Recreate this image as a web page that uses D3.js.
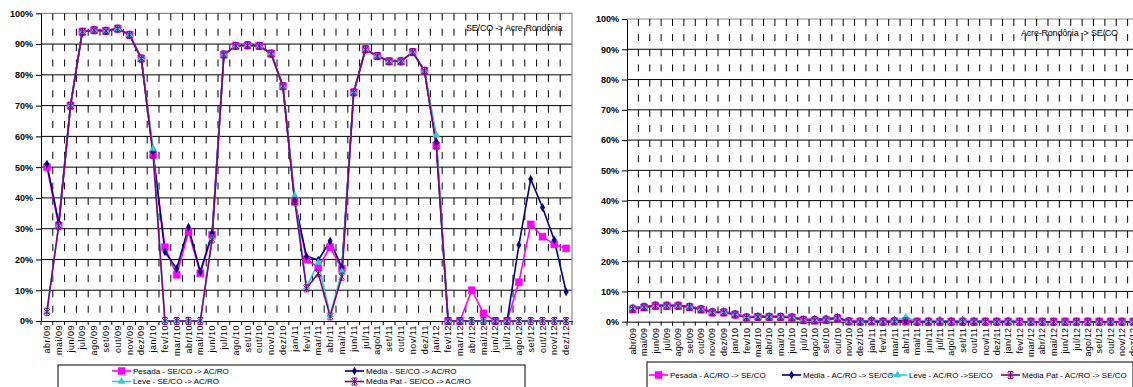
<!DOCTYPE html>
<html>
<head>
<meta charset="utf-8">
<script src="https://cdn.jsdelivr.net/npm/d3@7"></script>
<style>
  body { margin: 0; background: #fff; }
  svg { display: block; font-family: "Liberation Sans", Arial, sans-serif; }
</style>
</head>
<body>
<div id="chart"></div>
<script>
// categories
var months = ["abr/09","mai/09","jun/09","jul/09","ago/09","set/09","out/09","nov/09","dez/09",
  "jan/10","fev/10","mar/10","abr/10","mai/10","jun/10","jul/10","ago/10","set/10","out/10","nov/10","dez/10",
  "jan/11","fev/11","mar/11","abr/11","mai/11","jun/11","jul/11","ago/11","set/11","out/11","nov/11","dez/11",
  "jan/12","fev/12","mar/12","abr/12","mai/12","jun/12","jul/12","ago/12","set/12","out/12","nov/12","dez/12"];
var yTicks = [0, 10, 20, 30, 40, 50, 60, 70, 80, 90, 100];

// SE/CO -> AC/RO (%)
var pesadaIda = [50,31,70,94,94.5,94.3,95,93,85.3,54,24,15,29,15.5,28,86.6,89.4,89.6,89.4,86.9,76.3,
  38.7,20,17.4,24,17,74.3,88.3,86.1,84.4,84.4,87.4,81.3,57,0,0,10,2.5,0,0,12.6,31.4,27.4,24.9,23.6];
var mediaIda = [51,32,70,94,94.5,94.3,95,93,85.3,55,22.5,17,30.5,16,28.5,86.6,89.4,89.6,89.4,86.9,76.3,
  39,21,19.8,26,17.4,74.3,88.3,86.1,84.4,84.4,87.4,81.3,58.2,0,0,0,0,0,0,24.7,46.1,36.9,26.3,9.5];
var leveIda = [3,31,70,94,94.5,94.3,95,93,85.3,56,0,0,0,0,27,86.6,89.4,89.6,89.4,86.9,76.3,
  40.7,11,19,2,16,74.3,88.3,86.1,84.4,84.4,87.4,81.3,60.4,0,0,0,0,0,0,0,0,0,0,0];
var patIda = [3,31,70,94,94.5,94.3,95,93,85.3,54,0,0,0,0,26.5,86.6,89.4,89.6,89.4,86.9,76.3,
  39,10.6,15.5,1.5,14.4,74.3,88.3,86.1,84.4,84.4,87.4,81.3,57,0,0,0,0,0,0,0,0,0,0,0];

// AC/RO -> SE/CO (%)
var pesadaVolta = [4.0,4.7,5.2,5.2,5.2,4.8,4.0,3.0,3.0,2.3,1.3,1.5,1.5,1.5,1.3,0.5,0.3,0.5,1.1,0.1,0,
  0.1,0,0.1,0.1,0,0,0,0,0,0,0,0,0,0,0,0,0,0,0,0,0,0,0,0];
var mediaVolta = [4.6,5.0,5.4,5.4,5.4,5.1,4.2,3.3,3.3,2.6,1.6,1.8,1.8,1.8,1.6,0.8,0.8,1.0,1.4,0.2,0.1,
  0.5,0.2,0.5,0.3,0,0.3,0.4,0.2,0.4,0.3,0.2,0,0.3,0,0,0,0,0,0,0,0,0,0,0];
var leveVolta = [4.5,4.9,5.3,5.3,5.3,5.0,4.1,3.2,3.2,2.5,1.5,1.7,1.7,1.7,1.5,0.7,0.6,0.8,1.3,0.1,0.1,
  0.3,0.1,0.3,1.5,0.1,0.2,0.3,0.1,0.3,0.2,0.1,0,0.2,0,0,0,0,0,0,0,0,0,0,0];
var patVolta = [4.3,4.8,5.3,5.3,5.3,4.9,4.1,3.1,3.1,2.4,1.4,1.6,1.6,1.6,1.4,0.6,0.5,0.7,1.2,0.1,0,
  0.1,0,0.1,0.1,0,0,0,0,0,0,0,0,0,0,0,0,0,0,0,0,0,0,0,0];

var colors = { pesada: "#ff00ff", media: "#000080", leve: "#33cccc", pat: "#800080" };

var svg = d3.select("#chart").append("svg")
  .attr("width", 1133)
  .attr("height", 387);

// marker drawing
function marker(sel, kind, color) {
  if (kind == "square") {
    sel.append("path").attr("d", d3.symbol(d3.symbolSquare, 49)())
      .attr("fill", color).attr("stroke", color).attr("stroke-width", 0.5);
  } else if (kind == "diamond") {
    sel.append("path").attr("d", d3.symbol(d3.symbolDiamond, 22)())
      .attr("fill", color);
  } else if (kind == "triangle") {
    sel.append("path").attr("d", d3.symbol(d3.symbolTriangle, 26)())
      .attr("fill", color);
  } else {
    sel.append("path").attr("d", "M-3,-3L3,3M-3,3L3,-3M0,-3.5L0,3.5M-2.5,-3.5L2.5,-3.5M-2.5,3.5L2.5,3.5")
      .attr("fill", "none").attr("stroke", color).attr("stroke-width", 1);
  }
}

function drawPanel(p) {
  var x = d3.scaleBand().domain(months).range([p.left, p.right]);
  var y = d3.scaleLinear().domain([0, 100]).range([p.bottom, p.top]);
  var bw = x.bandwidth();
  var g = svg.append("g");

  // horizontal gridlines
  g.append("g").selectAll("line")
    .data(yTicks.slice(1, 10))
    .enter().append("line")
    .attr("x1", p.left).attr("x2", p.right)
    .attr("y1", d => y(d)).attr("y2", d => y(d))
    .attr("stroke", "#000").attr("stroke-width", 1);

  // plot border top / right
  g.append("path")
    .attr("d", "M" + p.left + "," + y(100) + "H" + p.right + "V" + p.bottom)
    .attr("fill", "none").attr("stroke", "#8a8a8a").attr("stroke-width", 1.2);

  // vertical dashed gridlines between categories
  var per = (p.bottom - p.top) / 20;
  g.append("g").selectAll("line")
    .data(months.slice(1))
    .enter().append("line")
    .attr("x1", d => x(d)).attr("x2", d => x(d))
    .attr("y1", p.top).attr("y2", p.bottom)
    .attr("stroke", "#000").attr("stroke-width", 1)
    .attr("stroke-dasharray", (per * 0.46) + "," + (per * 0.54));

  // x tick marks under axis
  g.append("g").selectAll("line")
    .data(d3.range(months.length + 1))
    .enter().append("line")
    .attr("x1", i => p.left + i * bw).attr("x2", i => p.left + i * bw)
    .attr("y1", p.bottom).attr("y2", p.bottom + 4)
    .attr("stroke", "#000");

  // y axis
  var yAxis = g.append("g")
    .attr("transform", "translate(" + p.left + ",0)")
    .call(d3.axisLeft(y).tickValues(yTicks).tickFormat(d => d + "%").tickSizeInner(5).tickSizeOuter(0).tickPadding(3));
  yAxis.selectAll("text").attr("font-size", "9px").attr("font-weight", "bold")
    .attr("font-family", "Liberation Sans, Arial, sans-serif").attr("fill", "#000");
  yAxis.select(".domain").attr("stroke", "#000");

  // x axis line + labels
  var xAxis = g.append("g")
    .attr("transform", "translate(0," + p.bottom + ")")
    .call(d3.axisBottom(x).tickSize(0));
  xAxis.select(".domain").attr("stroke", "#000");
  xAxis.selectAll("text")
    .attr("transform", "rotate(-90)")
    .attr("x", -p.labelGap).attr("y", 0).attr("dy", "0.35em")
    .attr("text-anchor", "end")
    .attr("font-size", "9px")
    .attr("letter-spacing", p.labelSpacing)
    .attr("font-family", "Liberation Sans, Arial, sans-serif")
    .attr("fill", "#000");

  // series
  var line = d3.line()
    .x((d, i) => x(months[i]) + bw / 2)
    .y(d => y(d));

  p.series.forEach(function (s) {
    g.append("path")
      .datum(s.values)
      .attr("d", line)
      .attr("fill", "none")
      .attr("stroke", s.color)
      .attr("stroke-width", 1.6);
  });
  p.series.forEach(function (s) {
    g.append("g").selectAll("g")
      .data(s.values)
      .enter().append("g")
      .attr("transform", (d, i) => "translate(" + (x(months[i]) + bw / 2) + "," + y(d) + ")")
      .each(function () { marker(d3.select(this), s.shape, s.color); });
  });

  // title inside plot
  g.append("text")
    .attr("x", p.titleX).attr("y", p.titleY)
    .attr("font-size", "9px")
    .attr("letter-spacing", "-0.2px")
    .attr("dy", "0.35em")
    .text(p.title);

  // legend
  var lg = g.append("g");
  lg.append("rect")
    .attr("x", p.legend.x).attr("y", p.legend.y)
    .attr("width", p.legend.w).attr("height", p.legend.h)
    .attr("fill", "#fff").attr("stroke", "#000").attr("stroke-width", 1);
  p.series.forEach(function (s, i) {
    var pos = p.legend.items[i];
    var it = lg.append("g").attr("transform", "translate(" + pos[0] + "," + pos[1] + ")");
    it.append("line").attr("x1", 0).attr("x2", 19).attr("y1", 0).attr("y2", 0)
      .attr("stroke", s.color).attr("stroke-width", 1.6);
    marker(it.append("g").attr("transform", "translate(9.5,0)"), s.shape, s.color);
    it.append("text").attr("x", 21).attr("dy", "0.35em")
      .attr("font-size", "8px")
      .text(s.name);
  });
}

drawPanel({
  left: 41, right: 572, top: 13.3, bottom: 321,
  labelGap: 4, labelSpacing: "0.5px",
  title: "SE/CO -> Acre-Rondônia", titleX: 466, titleY: 28,
  series: [
    { name: "Pesada - SE/CO -> AC/RO", values: pesadaIda, color: colors.pesada, shape: "square" },
    { name: "Média - SE/CO -> AC/RO", values: mediaIda, color: colors.media, shape: "diamond" },
    { name: "Leve - SE/CO -> AC/RO", values: leveIda, color: colors.leve, shape: "triangle" },
    { name: "Média Pat - SE/CO -> AC/RO", values: patIda, color: colors.pat, shape: "star" }
  ],
  legend: { x: 58, y: 365, w: 467, h: 30, items: [[112, 371], [345, 371], [112, 381.5], [345, 381.5]] }
});

drawPanel({
  left: 627, right: 1139, top: 19, bottom: 321.7,
  labelGap: 6, labelSpacing: "0.2px",
  title: "Acre-Rondônia -> SE/CO", titleX: 1021, titleY: 32.5,
  series: [
    { name: "Pesada - AC/RO -> SE/CO", values: pesadaVolta, color: colors.pesada, shape: "square" },
    { name: "Média - AC/RO -> SE/CO", values: mediaVolta, color: colors.media, shape: "diamond" },
    { name: "Leve - AC/RO ->SE/CO", values: leveVolta, color: colors.leve, shape: "triangle" },
    { name: "Média Pat - AC/RO -> SE/CO", values: patVolta, color: colors.pat, shape: "star" }
  ],
  legend: { x: 647, y: 362, w: 486, h: 32, items: [[649, 375], [782, 375], [888, 375], [1001, 375]] }
});
</script>
</body>
</html>
